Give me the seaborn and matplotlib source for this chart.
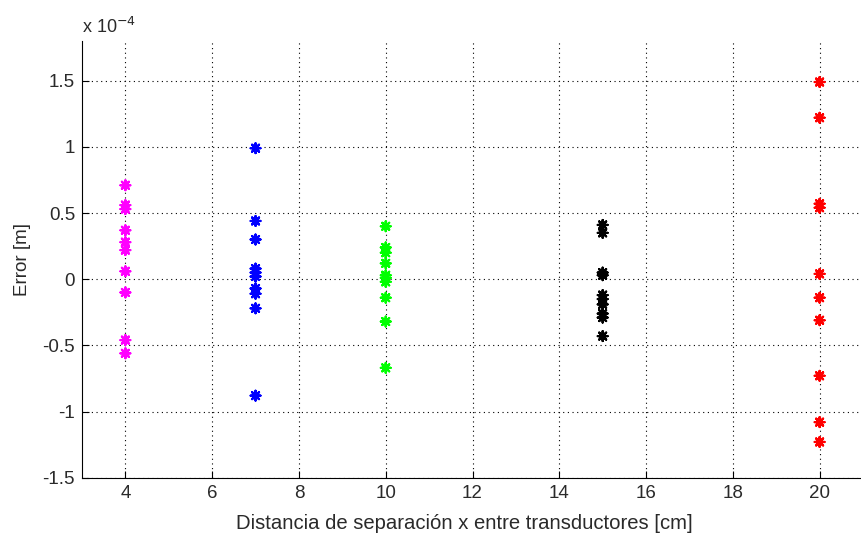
import matplotlib
matplotlib.use("Agg")
import matplotlib.pyplot as plt
from matplotlib.ticker import FuncFormatter
import seaborn as sns
import pandas as pd

# Measured error (in units of 1e-4 m) for each transducer separation
err_4cm = [0.71, 0.56, 0.53, 0.37, 0.28, 0.22, 0.06, -0.10, -0.46, -0.56]
err_7cm = [0.99, 0.44, 0.30, 0.08, 0.05, 0.02, -0.07, -0.11, -0.22, -0.88]
err_10cm = [0.40, 0.24, 0.20, 0.12, 0.03, 0.01, -0.02, -0.14, -0.32, -0.67]
err_15cm = [0.41, 0.35, 0.05, 0.03, -0.12, -0.15, -0.19, -0.26, -0.29, -0.43]
err_20cm = [1.49, 1.22, 0.57, 0.54, 0.04, -0.14, -0.31, -0.73, -1.08, -1.23]

distances = [4, 7, 10, 15, 20]
series = [err_4cm, err_7cm, err_10cm, err_15cm, err_20cm]
colors = ["#ff00ff", "#0000ff", "#00ff00", "#000000", "#ff0000"]
scale = 1e-4

x_ticks = [4, 6, 8, 10, 12, 14, 16, 18, 20]
y_ticks = [-1.5, -1, -0.5, 0, 0.5, 1, 1.5]

rows = []
for d, vals in zip(distances, series):
    for v in vals:
        rows.append({"dist": d, "err": v * scale})
df = pd.DataFrame(rows)

sns.set_style("white")
plt.rcParams["font.family"] = ["Liberation Sans", "DejaVu Sans"]

FS = 13.5
TXT = "#2a2a2a"

fig = plt.figure(figsize=(8.61, 5.38), dpi=100)
ax = fig.add_axes([82 / 861, 1 - 477.7 / 538, (863 - 82) / 861, (477.7 - 41) / 538])

sns.scatterplot(
    data=df, x="dist", y="err", hue="dist",
    palette=dict(zip(distances, colors)),
    marker=(8, 2, 0), s=50, linewidth=1.6,
    legend=False, ax=ax, zorder=3,
)

ax.set_xlim(3, 21)
ax.set_ylim(-1.5 * scale, 1.8 * scale)
ax.set_xticks(x_ticks)
ax.set_yticks([t * scale for t in y_ticks])
ax.yaxis.set_major_formatter(FuncFormatter(lambda v, p: "%g" % round(v / scale, 6)))

ax.grid(True, color="black", linestyle=(0, (1, 3.2)), linewidth=0.8)
ax.set_axisbelow(True)
for side in ("top", "right"):
    ax.spines[side].set_visible(False)
for side in ("left", "bottom"):
    ax.spines[side].set_color("black")
    ax.spines[side].set_linewidth(0.8)

ax.tick_params(direction="in", length=5, width=0.8, colors="black",
               labelsize=FS, labelcolor=TXT, pad=5,
               left=True, bottom=True)

ax.set_xlabel("Distancia de separación x entre transductores [cm]",
              fontsize=14.6, color=TXT)
ax.xaxis.set_label_coords(0.489, -0.083)
ax.set_ylabel("Error [m]", fontsize=FS, color=TXT, labelpad=8)

fig.text(82 / 861, 1 - 33 / 538, r"x 10$^{-4}$", fontsize=FS - 0.5, color=TXT,
         ha="left", va="baseline")

fig.savefig("out.png", dpi=100)
